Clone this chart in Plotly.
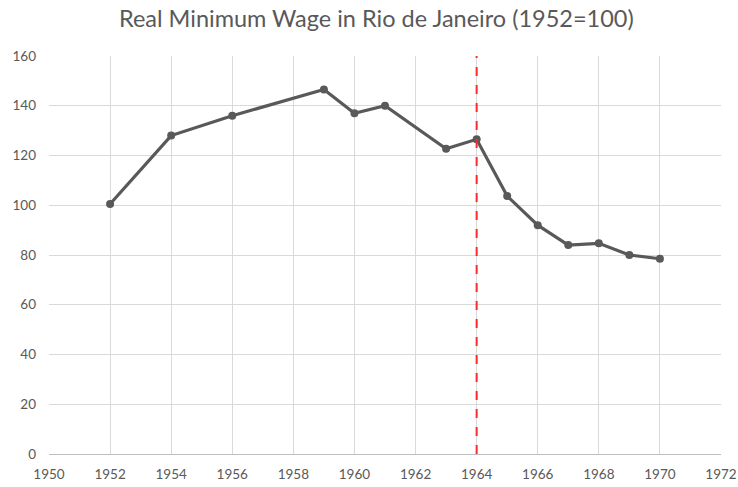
import plotly.graph_objects as go

years = [1952, 1954, 1956, 1959, 1960, 1961, 1963, 1964, 1965, 1966, 1967, 1968, 1969, 1970]
wage_index = [100.5, 128, 136, 146.5, 137, 140, 122.7, 126.5, 103.7, 92, 84, 84.7, 80, 78.5]
x_ticks = list(range(1950, 1973, 2))
y_ticks = list(range(0, 161, 20))
coup_year = 1964

fig = go.Figure()
fig.add_trace(go.Scatter(
    x=years, y=wage_index, mode="lines+markers",
    line=dict(color="#595959", width=3.2),
    marker=dict(color="#595959", size=8),
    showlegend=False,
))
fig.add_trace(go.Scatter(
    x=[coup_year, coup_year], y=[0, 160], mode="lines",
    line=dict(color="#ff2a2a", width=2, dash="dash"),
    showlegend=False,
))

fig.update_layout(
    width=738, height=487,
    paper_bgcolor="white", plot_bgcolor="white",
    margin=dict(l=49, r=17, t=56, b=33),
    title=dict(text="Real Minimum Wage in Rio de Janeiro (1952=100)",
               x=0.51, xanchor="center", y=0.962, yanchor="middle",
               font=dict(family="Lato, Open Sans, sans-serif", size=23.5, color="#595959")),
    font=dict(family="Lato, Open Sans, sans-serif", size=13.5, color="#595959"),
)
fig.update_xaxes(
    range=[1950, 1972], tickvals=x_ticks, showgrid=True, gridcolor="#d9d9d9", gridwidth=1,
    showline=True, linecolor="#bfbfbf", linewidth=1, zeroline=False, ticks="",
    mirror=False, ticklabelstandoff=8, automargin=False,
)
fig.update_yaxes(
    range=[0, 160], tickvals=y_ticks, showgrid=True, gridcolor="#d9d9d9", gridwidth=1,
    zeroline=False, showline=False, ticks="", ticklabelstandoff=12, automargin=False,
)
fig.write_html("out.html", config={"displayModeBar": False},
               post_script="document.body.style.margin='0';document.body.style.overflow='hidden';")
